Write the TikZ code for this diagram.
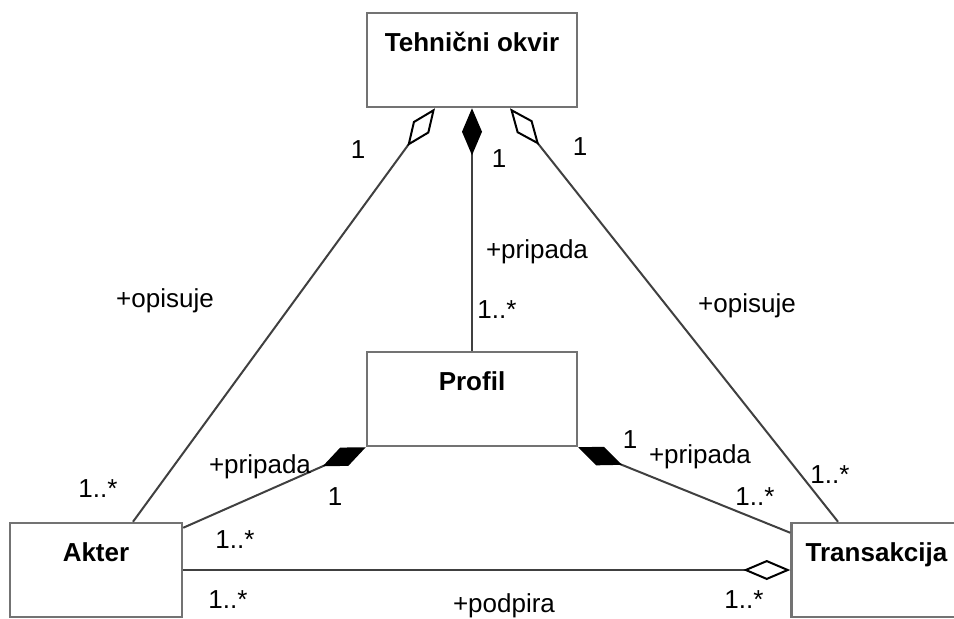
\documentclass[tikz,border=0pt]{standalone}
\usepackage{fontspec}
\setmainfont{Liberation Sans}
\usetikzlibrary{arrows.meta}
\begin{document}
\begin{tikzpicture}[x=1pt,y=-1pt,
  klasa/.style={draw=black!55,line width=2.5pt,font=\fontsize{26}{30}\selectfont\bfseries,
    minimum width=210pt,inner xsep=0pt,inner ysep=8pt,text height=30pt,text depth=48pt},
  veza/.style={draw=black!75,line width=2pt},
  lab/.style={anchor=base,inner sep=0pt,font=\fontsize{26}{30}\selectfont},
  agg/.style={-{Diamond[open,length=47pt,width=20pt,color=black]}},
  komp/.style={-{Diamond[length=47pt,width=20pt,color=black]}}]
  \useasboundingbox (0,0) rectangle (954,619);
  \clip (0,0) rectangle (954,619);
  % razredi
  \node[klasa] (okvir) at (472,60) {Tehnični okvir};
  \node[klasa] (profil) at (472,399) {Profil};
  \node[klasa,minimum width=172pt] (akter) at (96,570) {Akter};
  \node[klasa,minimum width=170pt] (trans) at (876.5,570) {Transakcija};
  % povezave
  \draw[veza,agg] ([xshift=37pt]akter.north) -- ([xshift=-37pt]okvir.south);
  \draw[veza,agg] ([xshift=-38.5pt]trans.north) -- ([xshift=38pt]okvir.south);
  \draw[veza,komp] (profil.north) -- (okvir.south);
  \draw[veza,komp] ([yshift=-6pt]akter.north east) -- (profil.south west);
  \draw[veza,komp] ([yshift=-11pt]trans.north west) -- (profil.south east);
  \draw[veza,agg] (akter.east) -- (trans.west);
  % oznake
  \node[lab] (m1) at (358,158) {1};
  \node[lab] (m2) at (499,167) {1};
  \node[lab] (m3) at (580,155) {1};
  \node[lab] (r1) at (537,258) {+pripada};
  \node[lab] (m4) at (497,318) {1..*};
  \node[lab] (r2) at (165,307) {+opisuje};
  \node[lab] (r3) at (747,312) {+opisuje};
  \node[lab] (m5) at (98,497) {1..*};
  \node[lab] (r4) at (260,473) {+pripada};
  \node[lab] (m6) at (335,505) {1};
  \node[lab] (m7) at (235,548) {1..*};
  \node[lab] (m8) at (228,608) {1..*};
  \node[lab] (m9) at (630,448) {1};
  \node[lab] (r5) at (700,463) {+pripada};
  \node[lab] (m10) at (755,505) {1..*};
  \node[lab] (m11) at (830,483) {1..*};
  \node[lab] (m12) at (744,608) {1..*};
  \node[lab] (r6) at (504,612) {+podpira};
\end{tikzpicture}
\end{document}
